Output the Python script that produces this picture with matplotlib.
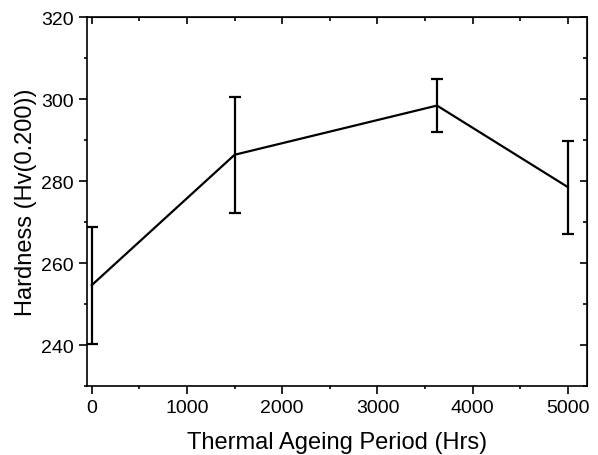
import matplotlib
matplotlib.use("Agg")
import matplotlib.pyplot as plt
from matplotlib.ticker import MultipleLocator

plt.rcParams["font.family"] = ["Liberation Sans", "DejaVu Sans"]

# data
hours = [0, 1500, 3625, 5000]
hardness = [254.6, 286.4, 298.4, 278.5]
err_low = [240.2, 272.3, 291.9, 267.1]
err_high = [268.9, 300.4, 305.0, 289.8]

yerr = [[h - lo for h, lo in zip(hardness, err_low)],
        [hi - h for h, hi in zip(hardness, err_high)]]

fig = plt.figure(figsize=(5.98, 4.56), dpi=100)
ax = fig.add_axes([0.1455, 0.1513, 0.8361, 0.8092])

ax.errorbar(hours, hardness, yerr=yerr, color="black", linewidth=1.6,
            elinewidth=1.6, capsize=4, capthick=1.6)

ax.set_xlim(-50, 5200)
ax.set_ylim(230, 320)
ax.xaxis.set_major_locator(MultipleLocator(1000))
ax.xaxis.set_minor_locator(MultipleLocator(500))
ax.yaxis.set_major_locator(MultipleLocator(20))
ax.yaxis.set_minor_locator(MultipleLocator(10))

ax.set_xlabel("Thermal Ageing Period (Hrs)", fontsize=17, labelpad=10.5)
ax.set_ylabel("Hardness (Hv(0.200))", fontsize=17, labelpad=3)

for s in ax.spines.values():
    s.set_linewidth(1.2)

ax.tick_params(which="both", direction="out", width=1.2, labelsize=14, pad=4)
ax.tick_params(which="major", length=5.5)
ax.tick_params(which="minor", length=2.5)

# mirrored inward ticks on top and right
top = ax.secondary_xaxis("top")
top.xaxis.set_major_locator(MultipleLocator(1000))
top.xaxis.set_minor_locator(MultipleLocator(500))
top.tick_params(which="both", direction="in", width=1.2, labeltop=False)
top.tick_params(which="major", length=5)
top.tick_params(which="minor", length=3)
right = ax.secondary_yaxis("right")
right.yaxis.set_major_locator(MultipleLocator(20))
right.yaxis.set_minor_locator(MultipleLocator(10))
right.tick_params(which="both", direction="in", width=1.2, labelright=False)
right.tick_params(which="major", length=5)
right.tick_params(which="minor", length=3)

fig.savefig("out.png", dpi=100)
